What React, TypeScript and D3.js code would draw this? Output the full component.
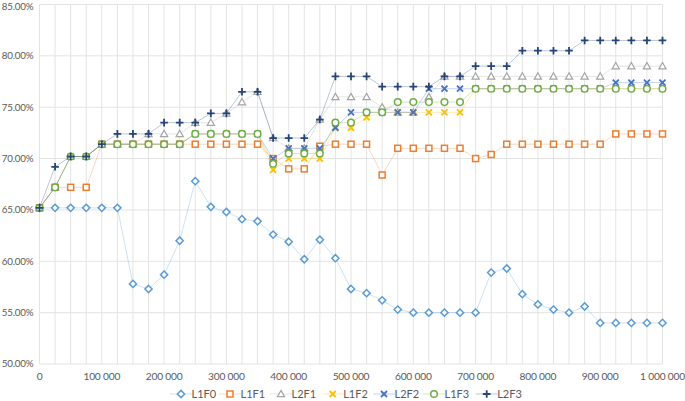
import React from "react";
import * as d3 from "d3";

const xValues: number[] = d3.range(0, 1000001, 25000);
const yTicks: number[] = [50, 55, 60, 65, 70, 75, 80, 85];
const xTicks: number[] = [0, 100000, 200000, 300000, 400000, 500000, 600000, 700000, 800000, 900000, 1000000];

const L1F0: number[] = [65.2,65.2,65.2,65.2,65.2,65.2,57.8,57.3,58.7,62.0,67.8,65.3,64.8,64.1,63.9,62.6,61.9,60.2,62.1,60.3,57.3,56.9,56.2,55.3,55.0,55.0,55.0,55.0,55.0,58.9,59.3,56.8,55.8,55.3,55.0,55.6,54.0,54.0,54.0,54.0,54.0];
const L1F1: number[] = [65.2,67.2,67.2,67.2,71.4,71.4,71.4,71.4,71.4,71.4,71.4,71.4,71.4,71.4,71.4,70.0,69.0,69.0,71.2,71.4,71.4,71.4,68.4,71.0,71.0,71.0,71.0,71.0,70.0,70.4,71.4,71.4,71.4,71.4,71.4,71.4,71.4,72.4,72.4,72.4,72.4];
const L2F1: number[] = [65.2,67.2,70.2,70.2,71.4,71.4,71.4,72.4,72.4,72.4,73.5,73.5,74.4,75.5,76.5,72.0,71.0,71.0,73.8,76.0,76.0,76.0,75.0,74.5,74.5,76.0,78.0,78.0,78.0,78.0,78.0,78.0,78.0,78.0,78.0,78.0,78.0,79.0,79.0,79.0,79.0];
const L1F2: number[] = [65.2,67.2,70.2,70.2,71.4,71.4,71.4,71.4,71.4,71.4,72.4,72.4,72.4,72.4,72.4,68.9,70.0,70.0,70.0,73.0,73.0,74.0,74.5,74.5,74.5,74.5,74.5,74.5,76.8,76.8,76.8,76.8,76.8,76.8,76.8,76.8,76.8,76.8,76.8,76.8,76.8];
const L2F2: number[] = [65.2,67.2,70.2,70.2,71.4,71.4,71.4,71.4,71.4,71.4,72.4,72.4,72.4,72.4,72.4,70.0,71.0,71.0,71.0,73.0,74.5,74.5,74.5,74.5,74.5,76.8,76.8,76.8,76.8,76.8,76.8,76.8,76.8,76.8,76.8,76.8,76.8,77.4,77.4,77.4,77.4];
const L1F3: number[] = [65.2,67.2,70.2,70.2,71.4,71.4,71.4,71.4,71.4,71.4,72.4,72.4,72.4,72.4,72.4,69.5,70.5,70.5,70.5,73.5,73.5,74.5,74.5,75.5,75.5,75.5,75.5,75.5,76.8,76.8,76.8,76.8,76.8,76.8,76.8,76.8,76.8,76.8,76.8,76.8,76.8];
const L2F3: number[] = [65.2,69.2,70.2,70.2,71.4,72.4,72.4,72.4,73.5,73.5,73.5,74.4,74.4,76.5,76.5,72.0,72.0,72.0,73.8,78.0,78.0,78.0,77.0,77.0,77.0,77.0,78.0,78.0,79.0,79.0,79.0,80.5,80.5,80.5,80.5,81.5,81.5,81.5,81.5,81.5,81.5];

const seriesNames: string[] = ["L1F0", "L1F1", "L2F1", "L1F2", "L2F2", "L1F3", "L2F3"];
const seriesValues: number[][] = [L1F0, L1F1, L2F1, L1F2, L2F2, L1F3, L2F3];
const seriesColors: string[] = ["#5B9BD5", "#ED7D31", "#A5A5A5", "#FFC000", "#4472C4", "#70AD47", "#264478"];
const seriesMarkers: string[] = ["diamond", "square", "triangle", "x", "x", "circle", "plus"];

const W = 685;
const H = 401;
const FONT = "Lato, 'Open Sans', sans-serif";

function Marker({ type, x, y, color }: { type: string; x: number; y: number; color: string }) {
  const sw = 1.5;
  if (type === "diamond") {
    const r = 3.6;
    return <path d={`M${x},${y - r}L${x + r},${y}L${x},${y + r}L${x - r},${y}Z`} fill="#fff" stroke={color} strokeWidth={sw} />;
  }
  if (type === "square") {
    const r = 3;
    return <rect x={x - r} y={y - r} width={2 * r} height={2 * r} fill="#fff" stroke={color} strokeWidth={sw} />;
  }
  if (type === "triangle") {
    const r = 3.6;
    return <path d={`M${x},${y - r}L${x + r},${y + r * 0.75}L${x - r},${y + r * 0.75}Z`} fill="#fff" stroke={color} strokeWidth={1.2} />;
  }
  if (type === "circle") {
    return <circle cx={x} cy={y} r={3.3} fill="#fff" stroke={color} strokeWidth={sw} />;
  }
  if (type === "x") {
    const r = 3;
    return <path d={`M${x - r},${y - r}L${x + r},${y + r}M${x - r},${y + r}L${x + r},${y - r}`} stroke={color} strokeWidth={1.8} fill="none" />;
  }
  const r = 3.8;
  return <path d={`M${x - r},${y}L${x + r},${y}M${x},${y - r}L${x},${y + r}`} stroke={color} strokeWidth={1.8} fill="none" />;
}

export default function App() {
  const x = d3.scaleLinear().domain([0, 1000000]).range([39.5, 662.5]);
  const y = d3.scaleLinear().domain([50, 85]).range([364, 4.5]);
  const line = d3.line<number>().x((_, i) => x(xValues[i])).y((v) => y(v));
  const fmtX = (v: number) => d3.format(",")(v).replace(/,/g, " ");
  const legendX = [181, 230, 281, 332.7, 384, 434, 486.7];
  const legendY = 394;

  return (
    <svg width={W} height={H} style={{ display: "block", position: "absolute", left: 0, top: 0 }} fontFamily={FONT}>
      <rect width={W} height={H} fill="#fff" />
      {xValues.map((v) => (
        <line key={"gx" + v} x1={x(v)} x2={x(v)} y1={y(85)} y2={y(50)} stroke="#E3E3E3" strokeWidth={1} />
      ))}
      {yTicks.map((v) => (
        <line key={"gy" + v} x1={x(0)} x2={x(1000000)} y1={y(v)} y2={y(v)} stroke="#E3E3E3" strokeWidth={1} />
      ))}
      {yTicks.map((v) => (
        <text key={"ty" + v} x={33.5} y={Math.max(y(v), 6.5)} dy="0.35em" textAnchor="end" fontSize={9.8} letterSpacing={-0.2} fill="#595959">
          {v.toFixed(2) + "%"}
        </text>
      ))}
      {xTicks.map((v) => (
        <text key={"tx" + v} x={x(v)} y={376} dy="0.35em" textAnchor="middle" fontSize={10.2} letterSpacing={-0.2} fill="#595959">
          {fmtX(v)}
        </text>
      ))}
      {seriesValues.map((vals, si) => (
        <g key={seriesNames[si]}>
          <path d={line(vals) || ""} fill="none" stroke={seriesColors[si]} strokeOpacity={0.3} strokeWidth={1} />
          {vals.map((v, i) => (
            <Marker key={i} type={seriesMarkers[si]} x={x(xValues[i])} y={y(v)} color={seriesColors[si]} />
          ))}
        </g>
      ))}
      {seriesNames.map((n, si) => (
        <g key={"lg" + n}>
          <line x1={legendX[si] - 11} x2={legendX[si] + 11} y1={legendY} y2={legendY} stroke={seriesColors[si]} strokeOpacity={0.3} strokeWidth={1} />
          <Marker type={seriesMarkers[si]} x={legendX[si]} y={legendY} color={seriesColors[si]} />
          <text x={legendX[si] + 10.5} y={legendY} dy="0.35em" fontSize={11} fill="#595959">
            {n}
          </text>
        </g>
      ))}
    </svg>
  );
}
